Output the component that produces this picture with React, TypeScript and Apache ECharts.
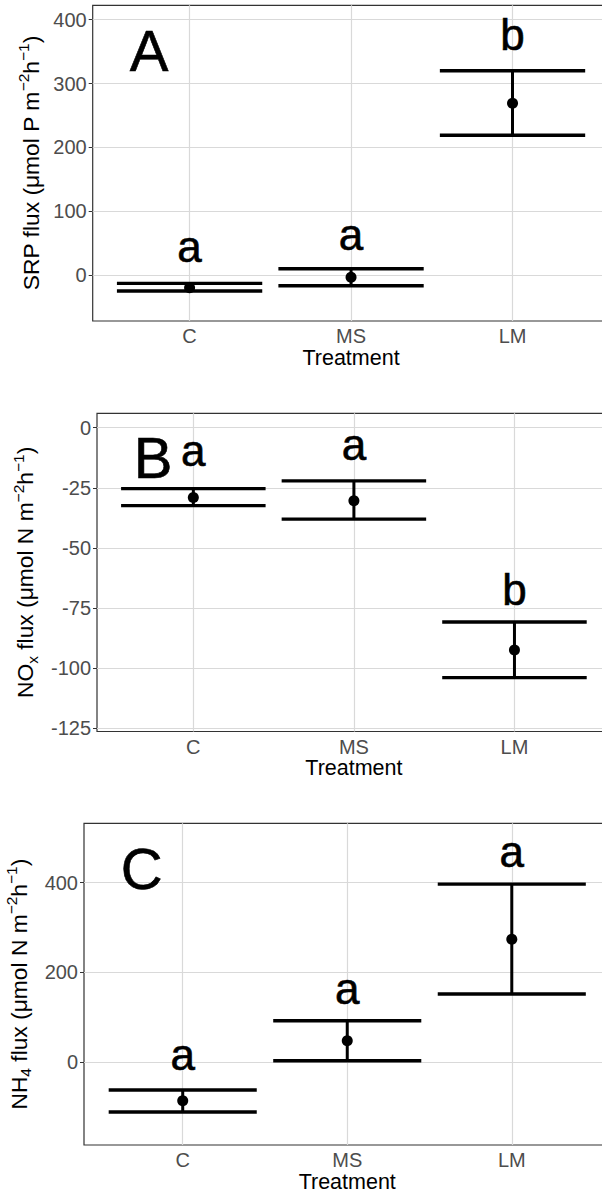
import React, { useEffect, useRef } from 'react';
import * as echarts from 'echarts';

const FONT = 'Liberation Sans, Arial, sans-serif';

const categories = ['C', 'MS', 'LM'];
const catX = [1, 2, 3];
const xRange = [0.4, 3.6];

// Panel A: SRP flux
const srpMean = [-20, -3.6, 269];
const srpLow = [-25, -16.7, 219];
const srpHigh = [-13, 9.9, 320];
const srpLetters = ['a', 'a', 'b'];
const srpLetterY = [45, 63, 376];
const srpTicks = [0, 100, 200, 300, 400];
const srpRange = [-72, 422.5];

// Panel B: NOx flux
const noxMean = [-29, -30.4, -92.4];
const noxLow = [-32.4, -38, -103.9];
const noxHigh = [-25.3, -22.1, -80.8];
const noxLetters = ['a', 'a', 'b'];
const noxLetterY = [-9.6, -7.1, -67.2];
const noxTicks = [-125, -100, -75, -50, -25, 0];
const noxRange = [-126.3, 6];

// Panel C: NH4 flux
const nh4Mean = [-85.5, 48, 274];
const nh4Low = [-110.7, 3.6, 152];
const nh4High = [-61.7, 92.7, 396.7];
const nh4Letters = ['a', 'a', 'a'];
const nh4LetterY = [17, 164, 470];
const nh4Ticks = [0, 200, 400];
const nh4Range = [-184, 532];

const panelLabels = ['A', 'B', 'C'];
const panelLabelX = 0.75;
const panelLabelY = [351, -12.5, 431];

const yNames = [
  '{t|SRP flux (μmol P m}{s|−2}{t|h}{s|−1}{t|)}',
  '{t|NO}{b|x}{t| flux (μmol N m}{s|−2}{t|h}{s|−1}{t|)}',
  '{t|NH}{b|4}{t| flux (μmol N m}{s|−2}{t|h}{s|−1}{t|)}',
];

const panels = [
  { mean: srpMean, low: srpLow, high: srpHigh, letters: srpLetters, letterY: srpLetterY, ticks: srpTicks, range: srpRange,
    grid: { left: 92.7, top: 5.3, width: 516.7, height: 315.7 }, nameGap: 41 },
  { mean: noxMean, low: noxLow, high: noxHigh, letters: noxLetters, letterY: noxLetterY, ticks: noxTicks, range: noxRange,
    grid: { left: 97, top: 413.3, width: 513.8, height: 318.2 }, nameGap: 46 },
  { mean: nh4Mean, low: nh4Low, high: nh4High, letters: nh4Letters, letterY: nh4LetterY, ticks: nh4Ticks, range: nh4Range,
    grid: { left: 84, top: 823.3, width: 526.5, height: 321.7 }, nameGap: 41 },
];

function buildOption() {
  const grid: any[] = [];
  const xAxis: any[] = [];
  const yAxis: any[] = [];
  const series: any[] = [];

  const textLabel = (size: number) => ({
    show: true,
    position: 'inside',
    formatter: (d: any) => d.data[2],
    color: '#000',
    opacity: 1,
    fontSize: size,
    fontFamily: FONT,
    textBorderWidth: 0.6,
    textBorderColor: '#000',
  });

  panels.forEach((p, i) => {
    grid.push({
      ...p.grid,
      show: true,
      backgroundColor: '#fff',
      borderColor: '#333',
      borderWidth: 1.2,
      containLabel: false,
      outerBoundsMode: 'none',
    });
    xAxis.push({
      type: 'value',
      gridIndex: i,
      min: xRange[0],
      max: xRange[1],
      splitLine: { show: false },
      axisLine: { show: false },
      axisTick: { show: true, customValues: catX, length: 4, lineStyle: { color: '#333', width: 1 } },
      axisLabel: {
        customValues: catX,
        formatter: (v: number) => categories[Math.round(v) - 1] ?? '',
        color: '#4d4d4d',
        fontSize: 20,
        fontFamily: FONT,
        margin: 5,
      },
      name: 'Treatment',
      nameLocation: 'middle',
      nameGap: 25,
      nameTextStyle: { color: '#000', fontSize: 21.5, fontFamily: FONT },
    });
    yAxis.push({
      type: 'value',
      gridIndex: i,
      min: p.range[0],
      max: p.range[1],
      splitLine: { show: false },
      axisLine: { show: false },
      axisTick: { show: true, customValues: p.ticks, length: 4, lineStyle: { color: '#333', width: 1 } },
      axisLabel: {
        customValues: p.ticks,
        color: '#4d4d4d',
        fontSize: 20,
        fontFamily: FONT,
        margin: 6,
      },
      name: yNames[i],
      nameLocation: 'middle',
      nameGap: p.nameGap,
      nameRotate: 90,
      nameTextStyle: {
        color: '#000',
        fontFamily: FONT,
        fontSize: 22.8,
        rich: {
          t: { fontSize: 22.8, lineHeight: 30, color: '#000', fontFamily: FONT },
          s: { fontSize: 15.5, lineHeight: 15, verticalAlign: 'top', color: '#000', fontFamily: FONT },
          b: { fontSize: 15.5, lineHeight: 19, verticalAlign: 'bottom', color: '#000', fontFamily: FONT },
        },
      },
    });

    // grid lines (drawn beneath everything)
    series.push({
      type: 'scatter',
      xAxisIndex: i,
      yAxisIndex: i,
      data: [],
      silent: true,
      z: 1,
      markLine: {
        silent: true,
        z: 1,
        symbol: 'none',
        animation: false,
        label: { show: false },
        lineStyle: { color: '#d9d9d9', width: 1.2, type: 'solid' },
        emphasis: { disabled: true },
        data: [
          ...p.ticks.map((v) => ({ yAxis: v })),
          ...catX.map((v) => ({ xAxis: v })),
        ],
      },
    });

    // error bars
    series.push({
      type: 'custom',
      xAxisIndex: i,
      yAxisIndex: i,
      z: 6,
      encode: { x: 0, y: [1, 2] },
      data: catX.map((x, k) => [x, p.low[k], p.high[k]]),
      renderItem: (params: any, api: any) => {
        const x = api.value(0);
        const lo = api.value(1);
        const hi = api.value(2);
        const pLo = api.coord([x, lo]);
        const pHi = api.coord([x, hi]);
        const half = api.size([0.9, 0])[0] / 2;
        const capStyle = { stroke: '#000', lineWidth: 3.4 };
        return {
          type: 'group',
          children: [
            { type: 'line', shape: { x1: pLo[0], y1: pLo[1], x2: pHi[0], y2: pHi[1] }, style: { stroke: '#000', lineWidth: 3 } },
            { type: 'line', shape: { x1: pLo[0] - half, y1: pLo[1], x2: pLo[0] + half, y2: pLo[1] }, style: capStyle },
            { type: 'line', shape: { x1: pHi[0] - half, y1: pHi[1], x2: pHi[0] + half, y2: pHi[1] }, style: capStyle },
          ],
        };
      },
    });

    // mean points
    series.push({
      type: 'scatter',
      xAxisIndex: i,
      yAxisIndex: i,
      z: 7,
      symbol: 'circle',
      symbolSize: 11,
      itemStyle: { color: '#000', opacity: 1 },
      data: catX.map((x, k) => [x, p.mean[k]]),
    });

    // significance letters
    series.push({
      type: 'scatter',
      xAxisIndex: i,
      yAxisIndex: i,
      z: 8,
      symbolSize: 0,
      silent: true,
      itemStyle: { color: '#000' },
      data: catX.map((x, k) => [x, p.letterY[k], p.letters[k]]),
      label: textLabel(44),
    });

    // panel label
    series.push({
      type: 'scatter',
      xAxisIndex: i,
      yAxisIndex: i,
      z: 8,
      symbolSize: 0,
      silent: true,
      itemStyle: { color: '#000' },
      data: [[panelLabelX, panelLabelY[i], panelLabels[i]]],
      label: textLabel(58),
    });
  });

  return {
    animation: false,
    backgroundColor: '#fff',
    textStyle: { fontFamily: FONT },
    grid,
    xAxis,
    yAxis,
    series,
  };
}

export default function App() {
  const ref = useRef<HTMLDivElement>(null);
  useEffect(() => {
    if (!ref.current) return;
    const chart = echarts.init(ref.current, null, { renderer: 'svg' });
    chart.setOption(buildOption() as any);
    return () => chart.dispose();
  }, []);
  return (
    <div
      ref={ref}
      style={{ position: 'absolute', left: 0, top: 0, width: 602, height: 1193, background: '#fff' }}
    />
  );
}
